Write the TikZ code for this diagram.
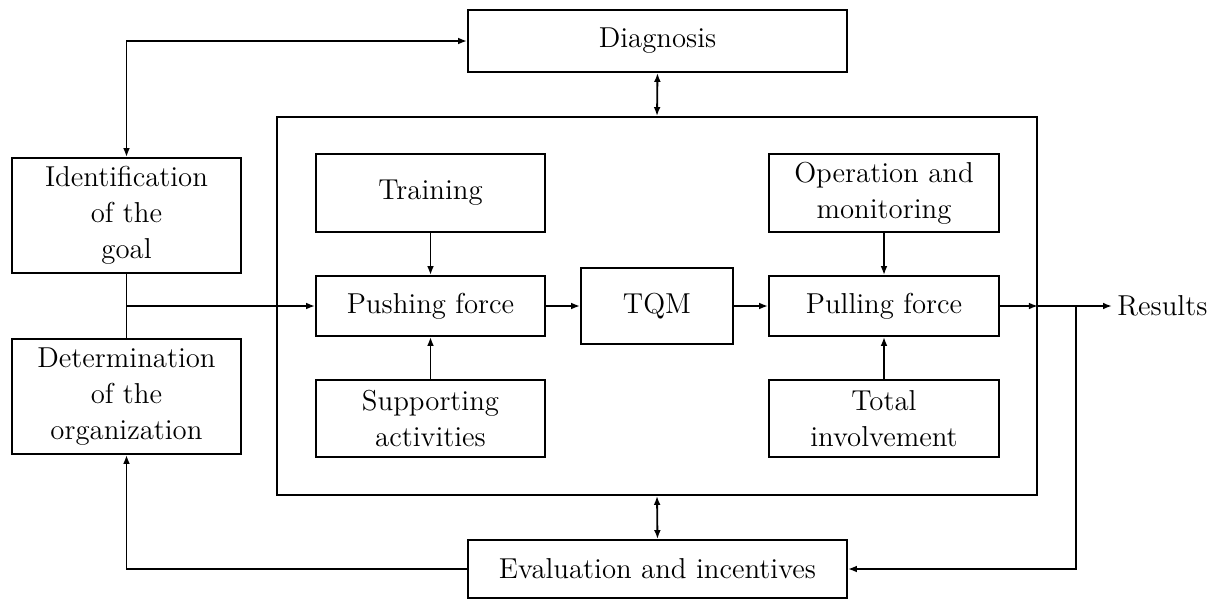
\documentclass[tikz,border=0pt]{standalone}
\usetikzlibrary{arrows.meta}
\begin{document}
\begin{tikzpicture}[x=0.5pt,y=-0.5pt,
  every node/.style={font=\fontsize{14.4}{18}\selectfont},
  box/.style={draw,line width=0.9pt,inner sep=0pt,align=center},
  link/.style={line width=0.9pt,-{Latex[length=4.5pt,width=3.4pt]}},
  dlink/.style={line width=0.9pt,{Latex[length=4.5pt,width=3.4pt]}-{Latex[length=4.5pt,width=3.4pt]}},
  plain/.style={line width=0.9pt}]
\useasboundingbox (0,0) rectangle (1222,600);

% outer blocks
\node[box,minimum width=189.5pt,minimum height=31pt] (diag) at (657.5,41) {Diagnosis};
\node[box,minimum width=114.5pt,minimum height=57.5pt] (ident) at (126.5,215.5) {Identification\\of the\\goal};
\node[box,minimum width=114.5pt,minimum height=57.5pt] (determ) at (126.5,396.5) {Determination\\of the\\organization};
\node[box,minimum width=189.5pt,minimum height=29pt] (eval) at (657.5,569) {Evaluation and incentives};

% frame around the TQM core
\node[box,minimum width=380pt,minimum height=189pt] (frame) at (657,306) {};

% core blocks
\node[box,minimum width=114.5pt,minimum height=39pt] (train) at (430.5,193) {Training};
\node[box,minimum width=114.5pt,minimum height=30pt] (push) at (430.5,306) {Pushing force};
\node[box,minimum width=114.5pt,minimum height=38.5pt] (support) at (430.5,418.5) {Supporting\\activities};
\node[box,minimum width=76pt,minimum height=38pt] (tqm) at (657,306) {TQM};
\node[box,minimum width=115pt,minimum height=39pt] (oper) at (884,193) {Operation and\\monitoring};
\node[box,minimum width=115pt,minimum height=30pt] (pull) at (884,306) {Pulling force};
\node[box,minimum width=115pt,minimum height=38.5pt] (total) at (884,418.5) {Total\\involvement};
\node[anchor=west,inner sep=2.5pt] (res) at (1112,306) {Results};

% helper points
\coordinate (jl) at (ident.south |- push.west);
\coordinate (jr) at (1076,306);
\coordinate (fr) at (frame.east |- pull.east);

% connectors
\draw[dlink] (ident.north) |- (diag.west);
\draw[dlink] (diag.south) -- (frame.north);
\draw[dlink] (frame.south) -- (eval.north);
\draw[plain] (ident.south) -- (determ.north);
\draw[link] (jl) -- (push.west);
\draw[link] (train.south) -- (push.north);
\draw[link] (support.north) -- (push.south);
\draw[link] (push.east) -- (tqm.west);
\draw[link] (tqm.east) -- (pull.west);
\draw[link] (oper.south) -- (pull.north);
\draw[link] (total.north) -- (pull.south);
\draw[link] (pull.east) -- (fr);
\draw[link] (fr) -- (res.west);
\draw[link] (jr) |- (eval.east);
\draw[link] (eval.west) -| (determ.south);
\end{tikzpicture}
\end{document}
